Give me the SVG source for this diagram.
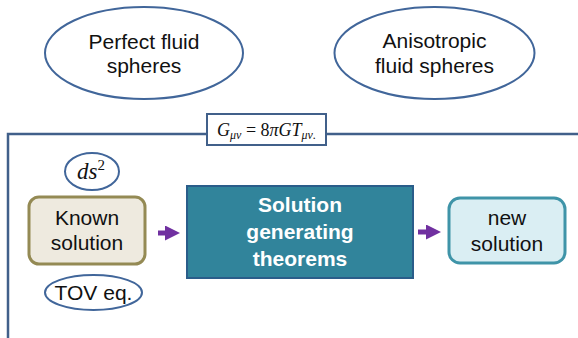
<svg xmlns="http://www.w3.org/2000/svg" width="578" height="338" viewBox="0 0 578 338">
<defs>
<style>
.t{font-family:"Liberation Sans",Arial,sans-serif;font-size:21px;fill:#111;text-anchor:middle}
.m{font-family:"Liberation Serif","Times New Roman",serif;font-style:italic;fill:#111;text-anchor:middle}
.oval{fill:#fff;stroke:#41669a;stroke-width:2}
.arrow{stroke:#7030a0;stroke-width:5;fill:none}
</style>
<marker id="ah" markerWidth="3" markerHeight="3" refX="1.2" refY="1.5" orient="auto" markerUnits="strokeWidth">
<path d="M0,0 L3,1.5 L0,3 z" fill="#7030a0"/>
</marker>
</defs>
<rect width="578" height="338" fill="#fff"/>
<g id="frame">
<path d="M8,338 V134 H578" fill="none" stroke="#41608a" stroke-width="2.5"/>
</g>
<g id="perfect">
<ellipse class="oval" cx="144" cy="53" rx="99" ry="46"/>
<text class="t" x="144" y="49">Perfect fluid</text>
<text class="t" x="144" y="73">spheres</text>
</g>
<g id="anisotropic">
<ellipse class="oval" cx="434.5" cy="53" rx="100" ry="46"/>
<text class="t" x="434.5" y="48">Anisotropic</text>
<text class="t" x="434.5" y="73">fluid spheres</text>
</g>
<g id="equation">
<rect x="207" y="114" width="119" height="31" fill="#fff" stroke="#41608a" stroke-width="2"/>
<text class="m" x="266.5" y="136" font-size="18">G<tspan font-size="12" dy="3">μν</tspan><tspan dy="-3" font-style="normal"> = 8</tspan>πGT<tspan font-size="12" dy="3">μν.</tspan></text>
</g>
<g id="ds2">
<ellipse class="oval" cx="92" cy="171.5" rx="27" ry="18.5" stroke-width="1.5"/>
<text class="m" x="91" y="179" font-size="23">ds<tspan font-size="15" font-style="normal" dy="-9">2</tspan></text>
</g>
<g id="known">
<rect x="29" y="197" width="116" height="67" rx="10" fill="#eeeadf" stroke="#948a54" stroke-width="3"/>
<text class="t" x="87" y="225">Known</text>
<text class="t" x="87" y="250">solution</text>
</g>
<g id="tov">
<ellipse class="oval" cx="93.5" cy="292.5" rx="48.5" ry="17.5" stroke-width="1.5"/>
<text class="t" x="93.5" y="300">TOV eq.</text>
</g>
<g id="theorems">
<rect x="187" y="186" width="226" height="92" fill="#31849b" stroke="#2a5d8a" stroke-width="2"/>
<text class="t" x="300" y="212" style="fill:#fff;font-weight:bold">Solution</text>
<text class="t" x="300" y="239" style="fill:#fff;font-weight:bold">generating</text>
<text class="t" x="300" y="266" style="fill:#fff;font-weight:bold">theorems</text>
</g>
<g id="new">
<rect x="449" y="198" width="116" height="65" rx="11" fill="#daeef3" stroke="#3f94a8" stroke-width="3"/>
<text class="t" x="507" y="225">new</text>
<text class="t" x="507" y="251">solution</text>
</g>
<g id="connectors">
<line class="arrow" x1="158" y1="233" x2="171" y2="233" marker-end="url(#ah)"/>
<line class="arrow" x1="418" y1="232" x2="432" y2="232" marker-end="url(#ah)"/>
</g>
</svg>
